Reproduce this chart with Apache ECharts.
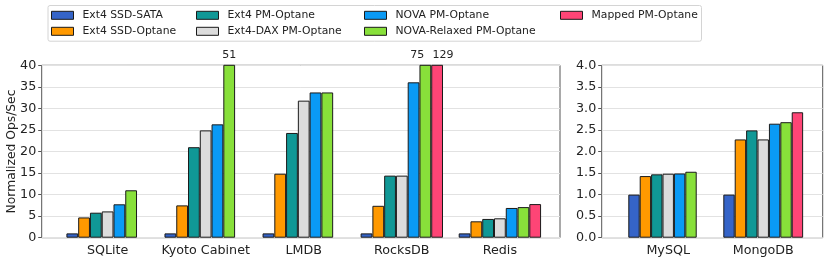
<!DOCTYPE html>
<html>
<head>
<meta charset="utf-8">
<script src="https://cdn.jsdelivr.net/npm/echarts@6/dist/echarts.min.js"></script>
<style>html,body{margin:0;padding:0;background:#fff}#c{width:831px;height:261px}</style>
</head>
<body>
<div id="c"></div>
<script>
// ---- data ----
const leftCategories = ['SQLite', 'Kyoto Cabinet', 'LMDB', 'RocksDB', 'Redis'];
const rightCategories = ['MySQL', 'MongoDB'];
const seriesNames = ['Ext4 SSD-SATA', 'Ext4 SSD-Optane', 'Ext4 PM-Optane', 'Ext4-DAX PM-Optane',
  'NOVA PM-Optane', 'NOVA-Relaxed PM-Optane', 'Mapped PM-Optane'];
const ext4SataLeft     = [1, 1, 1, 1, 1];
const ext4SsdOptLeft   = [4.7, 7.5, 14.85, 7.4, 3.8];
const ext4PmLeft       = [5.8, 21.0, 24.3, 14.4, 4.35];
const ext4DaxLeft      = [6.1, 24.9, 31.8, 14.4, 4.5];
const novaLeft         = [7.75, 26.3, 33.7, 36.05, 6.9];
const novaRelaxedLeft  = [11.0, 51, 33.7, 75, 7.1];
const mappedLeft       = [null, null, null, 129, 7.8];
const ext4SataRight    = [1.0, 1.0];
const ext4SsdOptRight  = [1.43, 2.28];
const ext4PmRight      = [1.47, 2.49];
const ext4DaxRight     = [1.485, 2.28];
const novaRight        = [1.49, 2.645];
const novaRelaxedRight = [1.53, 2.68];
const mappedRight      = [null, 2.91];
const leftTicks = [0, 5, 10, 15, 20, 25, 30, 35, 40];
const rightTicks = [0, 0.5, 1, 1.5, 2, 2.5, 3, 3.5, 4];

// ---- styling ----
const colors = ['#3564c8', '#ff9900', '#109896', '#dcdcdc', '#0a9af5', '#88e03a', '#fe4576'];
const FONT = 'DejaVu Sans';
const leftMax = 40, rightMax = 4;
const labelShift = { '3_5': -8, '3_6': 6 };

const leftSets = [ext4SataLeft, ext4SsdOptLeft, ext4PmLeft, ext4DaxLeft, novaLeft, novaRelaxedLeft, mappedLeft];
const rightSets = [ext4SataRight, ext4SsdOptRight, ext4PmRight, ext4DaxRight, novaRight, novaRelaxedRight, mappedRight];

function buildData(vals, sIdx, max) {
  const out = [];
  vals.forEach((v, i) => {
    if (v === null) return;
    const item = { value: [i, v] };
    if (v > max) {
      item.label = {
        show: true, position: 'top', distance: 4,
        formatter: String(v), fontFamily: FONT, fontSize: 11, color: '#222',
        offset: [labelShift[i + '_' + sIdx] || 0, 0]
      };
    }
    out.push(item);
  });
  return out;
}

const series = [];
seriesNames.forEach((name, s) => {
  [0, 1].forEach(g => {
    series.push({
      type: 'bar', name: name,
      xAxisIndex: g, yAxisIndex: g,
      barWidth: '12%', barGap: '0%',
      data: buildData(g === 0 ? leftSets[s] : rightSets[s], s, g === 0 ? leftMax : rightMax),
      itemStyle: { color: colors[s], borderColor: '#1a1a1a', borderWidth: 1 },
      clip: true, animation: false
    });
  });
});

const legendCols = [
  { left: 51, names: [seriesNames[0], seriesNames[1]] },
  { left: 196, names: [seriesNames[2], seriesNames[3]] },
  { left: 364, names: [seriesNames[4], seriesNames[5]] },
  { left: 560, names: [seriesNames[6]] }
];

const legends = legendCols.map(c => ({
  orient: 'vertical', left: c.left, top: 8.3, padding: 0,
  itemWidth: 22, itemHeight: 8, itemGap: 2, icon: 'rect',
  selectedMode: false,
  data: c.names.map(n => ({ name: n, itemStyle: { borderColor: '#1a1a1a', borderWidth: 1 } })),
  textStyle: { fontFamily: FONT, fontSize: 10.8, color: '#222', lineHeight: 14, padding: [0, 0, 0, 4] }
}));

function xAxisDef(gridIndex, min, max, cats) {
  return {
    type: 'value', gridIndex, min, max,
    axisLine: { show: false, onZero: false },
    splitLine: { show: false },
    axisTick: { show: false },
    axisLabel: {
      customValues: cats.map((c, i) => i),
      formatter: v => cats[Math.round(v)] || '',
      fontFamily: FONT, fontSize: 12.7, color: '#222', margin: 6
    }
  };
}
function yAxisDef(gridIndex, max, interval, fmt) {
  return {
    type: 'value', gridIndex, min: 0, max, interval,
    axisLine: { show: false, onZero: false },
    axisTick: { show: true, length: 3.5, lineStyle: { color: '#555' } },
    axisLabel: { fontFamily: FONT, fontSize: 12.7, color: '#222', margin: 5.5, formatter: fmt },
    splitLine: { show: true, lineStyle: { color: '#e2e2e2', width: 1 } }
  };
}

const option = {
  backgroundColor: '#fff',
  animation: false,
  legend: legends,
  graphic: [{
    type: 'rect', left: 47.5, top: 5, z: -1,
    shape: { width: 653.5, height: 35.7, r: 2 },
    style: { fill: '#fff', stroke: '#d4d4d4', lineWidth: 1 }
  }],
  grid: [
    { left: 41.7, top: 65.3, width: 518.3, height: 172.4, show: true, borderColor: '#555', borderWidth: 1, backgroundColor: 'transparent', containLabel: false, outerBoundsMode: 'none' },
    { left: 601.7, top: 65.3, width: 221, height: 172.4, show: true, borderColor: '#555', borderWidth: 1, backgroundColor: 'transparent', containLabel: false, outerBoundsMode: 'none' }
  ],
  xAxis: [
    xAxisDef(0, -0.672, 4.613, leftCategories),
    xAxisDef(1, -0.70, 1.626, rightCategories)
  ],
  yAxis: [
    Object.assign(yAxisDef(0, leftTicks[leftTicks.length - 1], leftTicks[1] - leftTicks[0], v => String(v)), {
      name: 'Normalized Ops/Sec', nameLocation: 'middle', nameGap: 24, nameRotate: 90,
      nameMoveOverlap: false,
      nameTextStyle: { fontFamily: FONT, fontSize: 12.3, color: '#222' }
    }),
    yAxisDef(1, rightTicks[rightTicks.length - 1], rightTicks[1] - rightTicks[0], v => v.toFixed(1))
  ],
  series
};

const chart = echarts.init(document.getElementById('c'), null, { renderer: 'canvas' });
chart.setOption(option);
</script>
</body>
</html>
